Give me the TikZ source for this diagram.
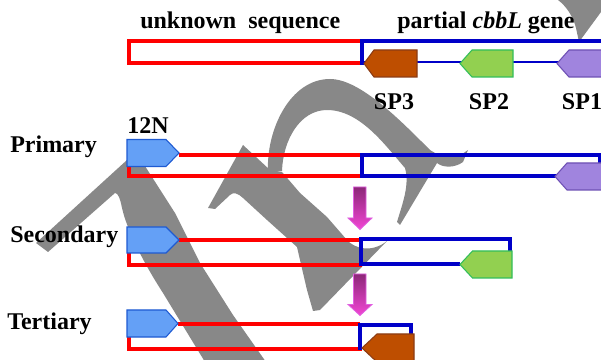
\documentclass[tikz,border=0pt]{standalone}
\usepackage{fontspec}
\setmainfont{Liberation Serif}
\definecolor{wm}{RGB}{136,136,136}
\definecolor{dnared}{RGB}{255,0,0}
\definecolor{dnablue}{RGB}{0,0,200}
\definecolor{primfill}{RGB}{100,160,246}
\definecolor{primedge}{RGB}{30,90,210}
\definecolor{brownfill}{RGB}{190,78,0}
\definecolor{brownedge}{RGB}{140,60,20}
\definecolor{greenfill}{RGB}{146,208,80}
\definecolor{greenedge}{RGB}{50,190,90}
\definecolor{purplefill}{RGB}{160,132,222}
\definecolor{purpleedge}{RGB}{110,80,180}
\definecolor{magtop}{RGB}{140,40,120}
\definecolor{magbot}{RGB}{242,70,212}
\definecolor{magedge}{RGB}{225,95,225}
\tikzset{
  redline/.style={draw=dnared, line width=3pt},
  blueline/.style={draw=dnablue, line width=3pt},
  thinblue/.style={draw=dnablue, line width=2pt},
  primer/.style={fill=primfill, draw=primedge, line width=0.8pt},
  spbrown/.style={fill=brownfill, draw=brownedge, line width=0.8pt},
  spgreen/.style={fill=greenfill, draw=greenedge, line width=0.8pt},
  sppurple/.style={fill=purplefill, draw=purpleedge, line width=0.8pt},
  downarrow/.style={top color=magtop, bottom color=magbot, draw=magedge, line width=0.6pt},
  wmark/.style={fill=wm, draw=none},
  lbl/.style={font=\fontsize{18}{20}\selectfont\bfseries, inner sep=0pt, text=black},
}
\begin{document}
\begin{tikzpicture}[x=0.75pt,y=-0.75pt]
\useasboundingbox (0,0) rectangle (601,360);
\clip (0,0) rectangle (601,360);
\fill[white] (0,0) rectangle (601,360);

% ---- watermark ----
\path[wmark] (36,243) -- (127,160) -- (136,152) -- (175,213) -- (200,263) -- (233,315) -- (266,362)
  -- (205,362) -- (163,293) .. controls (143,262) and (127,230) .. (122,208)
  .. controls (120,198) and (118,193) .. (115,193) -- (48,252) -- cycle;
\path[wmark] (268,172) .. controls (266,130) and (290,79) .. (330,79)
  .. controls (360,79) and (400,120) .. (430,150)
  .. controls (445,160) and (458,158) .. (468,150)
  -- (463,162) .. controls (455,168) and (443,168) .. (437,163)
  -- (400,225) -- (397,222) .. controls (402,205) and (410,185) .. (405,168)
  .. controls (385,145) and (360,110) .. (327,110)
  .. controls (300,110) and (283,140) .. (282,171) -- cycle;
\path[wmark] (208,208) -- (243,145) -- (270,170) -- (282,172) -- (300,193) -- (327,217) -- (347,240)
  .. controls (355,249) and (372,253) .. (387,241) -- (320,310) -- (313,311) -- (307,290)
  -- (300,260) -- (297,247) -- (267,220) -- (243,198) .. controls (238,193) and (233,192) .. (230,195)
  -- (215,209) -- cycle;
\path[wmark] (558,0) -- (601,0) -- (601,12) -- (579,42) -- (576,28) .. controls (573,16) and (566,6) .. (558,0) -- cycle;

% ---- labels ----
\node[lbl, anchor=base west] (unk) at (140,29) {unknown\ \ sequence};
\node[lbl, anchor=base west] (gene) at (397,29) {partial \textit{cbbL} gene};
\node[lbl, anchor=base] (sp3l) at (394,109.5) {SP3};
\node[lbl, anchor=base] (sp2l) at (489,109.5) {SP2};
\node[lbl, anchor=base] (sp1l) at (582,109.5) {SP1};
\node[lbl, anchor=base west] (n12) at (127,134) {12N};
\node[lbl, anchor=base west] (pri) at (10,153) {Primary};
\node[lbl, anchor=base west] (sec) at (10,242.5) {Secondary};
\node[lbl, anchor=base west] (ter) at (7,329.5) {Tertiary};

% ---- top row: template ----
\draw[redline] (361,41) -- (129,41) -- (129,63) -- (363,63);
\draw[thinblue] (362,62) -- (601,62);
\draw[blueline] (605,41) -- (362,41) -- (362,65);
\path[spbrown] (364,63.5) -- (374,50) -- (417,50) -- (417,77) -- (374,77) -- cycle;
\path[spgreen] (460,63.5) -- (472,50) -- (513,50) -- (513,77) -- (472,77) -- cycle;
\path[sppurple] (557,63.5) -- (569,50) -- (612,50) -- (612,77) -- (569,77) -- cycle;

% ---- primary ----
\draw[redline] (179,155) -- (361,155);
\draw[redline] (129,166) -- (129,176) -- (363,176);
\draw[blueline] (557,176) -- (362,176) -- (362,155) -- (600,155) -- (600,166);
\path[primer] (127,139.5) -- (166,139.5) -- (179,153) -- (166,166.5) -- (127,166.5) -- cycle;
\path[sppurple] (555,176.5) -- (567,163) -- (612,163) -- (612,190) -- (567,190) -- cycle;

% ---- secondary ----
\draw[redline] (179,240) -- (361,240);
\draw[redline] (129,252) -- (129,265) -- (362,265);
\draw[blueline] (460,264) -- (361,264) -- (361,239.5) -- (510,239.5) -- (510,252);
\path[primer] (127,227) -- (166,227) -- (179,240) -- (166,253) -- (127,253) -- cycle;
\path[spgreen] (460,264.5) -- (472.5,251) -- (512,251) -- (512,278) -- (472.5,278) -- cycle;

% ---- tertiary ----
\draw[redline] (178,324.5) -- (360,324.5);
\draw[redline] (129,336) -- (129,348.5) -- (362,348.5);
\draw[blueline] (360,350) -- (360,325) -- (411,325) -- (411,336);
\path[primer] (127,310) -- (166,310) -- (178,323.5) -- (166,337) -- (127,337) -- cycle;
\path[spbrown] (362,348) -- (377,334) -- (414,334) -- (414,362) -- (377,362) -- cycle;

% ---- nested-PCR arrows ----
\path[downarrow] (353.5,187) -- (366,187) -- (366,218) -- (372,218) -- (360,229.5) -- (348,218) -- (353.5,218) -- cycle;
\path[downarrow] (353.5,274) -- (366,274) -- (366,304.5) -- (372,304.5) -- (360,315.5) -- (348,304.5) -- (353.5,304.5) -- cycle;
\end{tikzpicture}
\end{document}
